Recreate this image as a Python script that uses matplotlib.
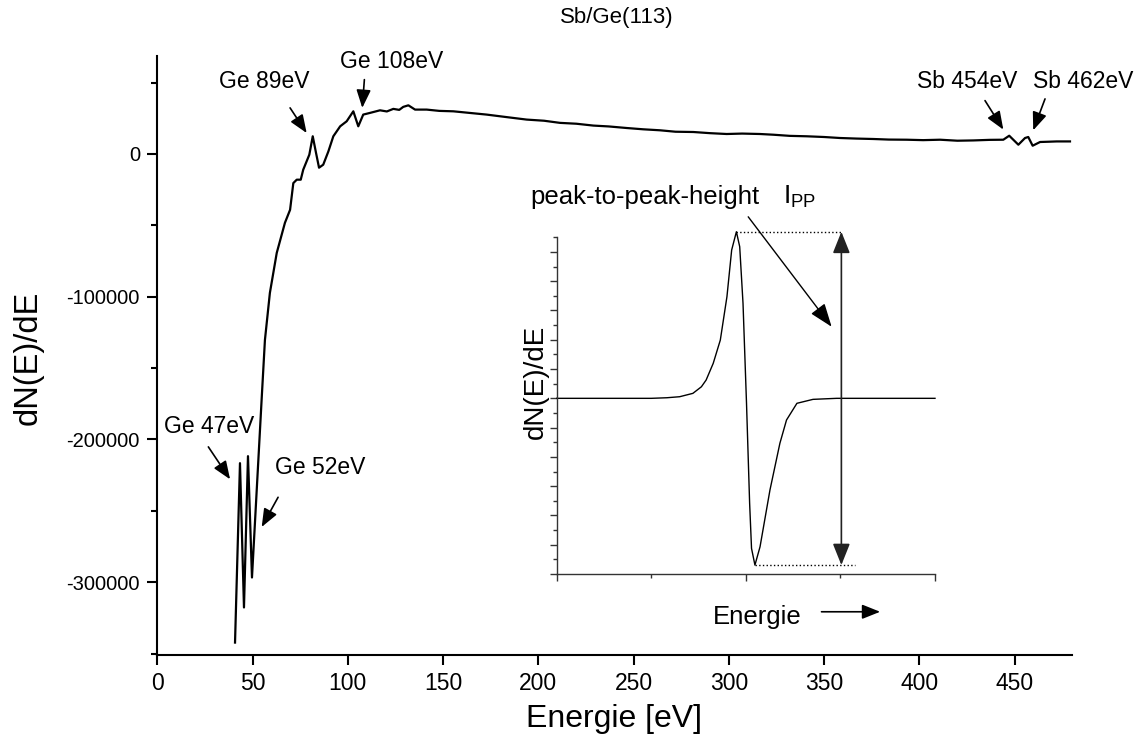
import matplotlib
matplotlib.use("Agg")
import matplotlib.pyplot as plt
from matplotlib.ticker import MultipleLocator, NullFormatter
import numpy as np

plt.rcParams['font.family'] = ['Liberation Sans', 'DejaVu Sans']
plt.rcParams['axes.unicode_minus'] = False

# Auger spectrum Sb/Ge(113)
energy = [40.8, 43.4, 45.5, 47.6, 49.7, 54.8, 56.5, 59.1, 62.7, 67.0,
          69.7, 71.4, 73.2, 75.3, 76.6, 79.8, 81.6, 83.3, 84.9, 87.1,
          89.8, 92.4, 96.0, 99.4, 102.9, 105.5, 108.1, 111.7, 116.9, 120.5,
          123.9, 127.0, 129.1, 131.8, 135.3, 141.4, 148.0, 155.4, 163.0, 172.9,
          183.0, 193.9, 203.0, 211.4, 220.0, 228.9, 237.0, 246.4, 255.0, 263.9,
          272.0, 281.4, 290.0, 298.9, 307.0, 316.4, 323.4, 332.0, 340.9, 350.0,
          358.4, 367.0, 375.9, 384.0, 393.4, 402.0, 410.9, 420.0, 428.4, 437.0,
          444.1, 447.2, 452.0, 455.5, 457.2, 459.5, 463.4, 468.0, 472.1, 479.1]
dnde = [-342300, -216600, -317700, -211700, -296700, -171200, -130300, -97300, -69300, -48200,
        -39100, -20400, -18000, -18000, -11000, -500, 12400, 900, -9600, -7500,
        1800, 12400, 19400, 22900, 29900, 19400, 27600, 28800, 30600, 29800,
        31600, 30900, 33000, 34100, 31100, 31100, 30200, 29900, 28900, 27600,
        25900, 24100, 23300, 21800, 21200, 19900, 19300, 18200, 17300, 16600,
        15600, 15400, 14600, 14000, 14300, 14000, 13500, 12700, 12400, 11900,
        11200, 10800, 10500, 10100, 10000, 9700, 10000, 9300, 9500, 9900,
        10000, 12800, 6500, 11200, 11900, 5800, 8400, 8600, 8800, 8800]

# schematic derivative peak for the inset
inset_x = [0, 1.0, 1.165, 1.30, 1.44, 1.53, 1.58, 1.655, 1.73, 1.80, 1.85, 1.90, 1.935,
           1.97, 2.007, 2.04, 2.06, 2.096, 2.15, 2.255, 2.36, 2.43, 2.54, 2.71, 2.96, 4.0]
inset_y = [0, 0, 0.04, 0.11, 0.34, 0.79, 1.25, 2.39, 3.98, 6.94, 10.13, 11.38, 10.36,
           6.49, -0.34, -7.17, -10.25, -11.39, -10.14, -6.26, -3.07, -1.48, -0.34, -0.07, 0, 0]

# peak labels: text, text position, arrow tail, arrow head (data coords)
peak_labels = [
    ('Ge 47eV', (27.1, -191200), (26.8, -205200), (38.2, -227900)),
    ('Ge 52eV', (85.4, -219500), (63.4, -240500), (54.8, -261300)),
    ('Ge 89eV', (56.0, 50900), (69.7, 32300), (78.4, 14700)),
    ('Ge 108eV', (123.0, 65000), (108.7, 52100), (107.6, 32300)),
    ('Sb 454eV', (424.9, 50900), (434.5, 37400), (444.1, 17100)),
    ('Sb 462eV', (486.1, 50900), (466.0, 38600), (459.8, 16600)),
]

W, H = 1148, 738


def px(x, y):
    return x / W, 1 - y / H


fig = plt.figure(figsize=(W / 100, H / 100), dpi=100)
ax = fig.add_axes([157.3 / W, 1 - 655 / H, 914.4 / W, 599.5 / H])

ax.plot(energy, dnde, color='black', lw=1.6)
ax.set_xlim(0, 480)
ax.set_ylim(-351000, 69000)
ax.xaxis.set_major_locator(MultipleLocator(50))
ax.yaxis.set_major_locator(MultipleLocator(100000))
ax.yaxis.set_minor_locator(MultipleLocator(50000))
ax.spines['top'].set_visible(False)
ax.spines['right'].set_visible(False)
for s in ('left', 'bottom'):
    ax.spines[s].set_linewidth(1.5)
ax.tick_params(which='major', direction='out', length=7.5, width=1.5, pad=5)
ax.tick_params(which='minor', direction='out', length=4.5, width=1.5)
ax.tick_params(axis='y', labelsize=14.5)
ax.tick_params(axis='x', labelsize=16.5)

for text, pos, tail, head in peak_labels:
    ax.text(pos[0], pos[1], text, ha='center', va='center', fontsize=16.5)
    ax.annotate('', xy=head, xytext=tail,
                arrowprops=dict(arrowstyle='-|>,head_length=0.5,head_width=0.2',
                                mutation_scale=22, lw=1.2, color='black',
                                shrinkA=0, shrinkB=0))

fig.text(*px(617, 18), 'Sb/Ge(113)', ha='center', va='center', fontsize=16)
fig.text(*px(614, 727), 'Energie [eV]', ha='center', va='baseline', fontsize=23)
fig.text(*px(28, 358), 'dN(E)/dE', ha='center', va='center', rotation=90, fontsize=23.5)

# inset sketch
axi = fig.add_axes([556.7 / W, 1 - 574 / H, 378.3 / W, 336.7 / H])
axi.plot(inset_x, inset_y, color='black', lw=1, clip_on=False)
axi.set_xlim(0, 4)
axi.set_ylim(-12, 11)
axi.xaxis.set_major_locator(MultipleLocator(2))
axi.xaxis.set_minor_locator(MultipleLocator(1))
axi.yaxis.set_major_locator(MultipleLocator(2))
axi.yaxis.set_minor_locator(MultipleLocator(1))
axi.xaxis.set_major_formatter(NullFormatter())
axi.yaxis.set_major_formatter(NullFormatter())
axi.spines['top'].set_visible(False)
axi.spines['right'].set_visible(False)
for s in ('left', 'bottom'):
    axi.spines[s].set_linewidth(1)
    axi.spines[s].set_color('#333333')
axi.tick_params(which='major', direction='out', length=5, width=1, color='#333333')
axi.tick_params(which='minor', direction='out', length=3, width=1, color='#333333')
axi.patch.set_alpha(0)

i_max = int(np.argmax(inset_y))
i_min = int(np.argmin(inset_y))
x_arrow = 3.01
axi.plot([inset_x[i_max], x_arrow], [inset_y[i_max]] * 2, ls=':', lw=1, color='black', clip_on=False)
axi.plot([inset_x[i_min], 3.15], [inset_y[i_min]] * 2, ls=':', lw=1, color='black', clip_on=False)
axi.annotate('', xy=(x_arrow, inset_y[i_max]), xytext=(x_arrow, inset_y[i_min]),
             arrowprops=dict(arrowstyle='<|-|>,head_length=0.55,head_width=0.22',
                             mutation_scale=24, lw=1.2, color='#222222',
                             shrinkA=0, shrinkB=0), annotation_clip=False)
axi.annotate('', xy=(2.907, 4.89), xytext=(2.025, 12.4),
             arrowprops=dict(arrowstyle='-|>,head_length=0.6,head_width=0.22',
                             mutation_scale=24, lw=1, color='black',
                             shrinkA=0, shrinkB=0), annotation_clip=False)
axi.annotate('', xy=(3.42, -14.58), xytext=(2.80, -14.58),
             arrowprops=dict(arrowstyle='-|>,head_length=0.5,head_width=0.2',
                             mutation_scale=22, lw=1.2, color='black',
                             shrinkA=0, shrinkB=0), annotation_clip=False)

fig.text(*px(530, 197), 'peak-to-peak-height', ha='left', va='center', fontsize=18.5)
fig.text(*px(783, 197), r'$\mathregular{I_{PP}}$', ha='left', va='center', fontsize=19)
fig.text(*px(757, 617), 'Energie', ha='center', va='center', fontsize=18.5)
fig.text(*px(536, 382), 'dN(E)/dE', ha='center', va='center', rotation=90, fontsize=20)

fig.savefig('out.png', dpi=100)
